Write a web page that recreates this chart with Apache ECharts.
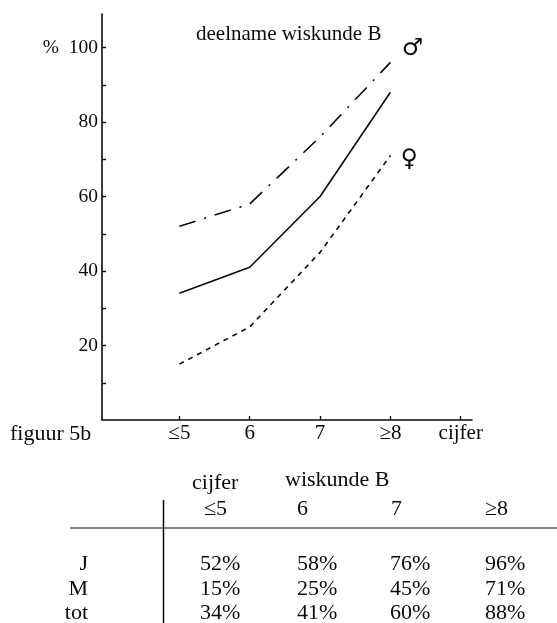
<!DOCTYPE html>
<html><head><meta charset="utf-8">
<script src="https://cdn.jsdelivr.net/npm/echarts@6/dist/echarts.min.js"></script>
<style>html,body{margin:0;padding:0;background:#fff}#c{width:557px;height:623px}</style>
</head><body><div id="c"></div>
<script>
// ---- data ----
const cijfers = [5, 6, 7, 8];
const cijferLabels = ['≤5', '6', '7', '≥8'];
const jongens = [52, 58, 76, 96];   // J  (♂)
const meisjes = [15, 25, 45, 71];   // M  (♀)
const totaal  = [34, 41, 60, 88];   // tot
const yLabelValues = [20, 40, 60, 80, 100];
const yTickValues = [10, 20, 30, 40, 50, 60, 70, 80, 90, 100];
const xAxisName = 'cijfer';
const rowNames = ['J', 'M', 'tot'];

const SERIF = '"Liberation Serif", "DejaVu Serif", serif';
const FS = 21;
const FT = 22;
const INK = '#0a0a0a';

function pts(vals, sym) {
  return vals.map((v, i) => {
    const p = { value: [cijfers[i], v] };
    if (sym && i === vals.length - 1) p.label = sym;
    return p;
  });
}

const chart = echarts.init(document.getElementById('c'), null, { renderer: 'canvas' });

// table graphic built from the arrays
const headLeft = [204, 297, 391, 485];
const valLeft = [200, 297, 390, 485];
const rowY = [564, 589, 613];
const tableRows = [jongens, meisjes, totaal];
const tf = FT + 'px ' + SERIF;
const graphic = [
  { type: 'text', x: 10, y: 434, style: { text: 'figuur 5b', font: tf, fill: INK, verticalAlign: 'middle' } },
  { type: 'text', x: 192, y: 483, style: { text: 'cijfer', font: tf, fill: INK, verticalAlign: 'middle' } },
  { type: 'text', x: 285, y: 480, style: { text: 'wiskunde B', font: tf, fill: INK, verticalAlign: 'middle' } },
  { type: 'line', shape: { x1: 70, y1: 528, x2: 557, y2: 528 }, style: { stroke: INK, lineWidth: 1.2 } },
  { type: 'line', shape: { x1: 163.5, y1: 500, x2: 163.5, y2: 623 }, style: { stroke: INK, lineWidth: 1.5 } }
];
cijferLabels.forEach((t, i) => graphic.push({ type: 'text', x: headLeft[i], y: 509,
  style: { text: t, font: tf, fill: INK, verticalAlign: 'middle' } }));
tableRows.forEach((row, r) => {
  graphic.push({ type: 'text', x: 88, y: rowY[r],
    style: { text: rowNames[r], font: tf, fill: INK, align: 'right', verticalAlign: 'middle' } });
  row.forEach((v, i) => graphic.push({ type: 'text', x: valLeft[i], y: rowY[r],
    style: { text: v + '%', font: tf, fill: INK, verticalAlign: 'middle' } }));
});

const symLabel = (ch, off) => ({
  show: true, formatter: ch, position: 'inside', offset: off,
  fontFamily: '"DejaVu Sans", sans-serif', fontSize: 24, color: INK
});

chart.setOption({
  animation: false,
  backgroundColor: '#fff',
  title: {
    text: 'deelname wiskunde B', left: 191, top: 19,
    textStyle: { fontFamily: SERIF, fontSize: FS, fontWeight: 'normal', color: INK }
  },
  grid: { left: 102, top: 14, width: 370, height: 406 },
  xAxis: {
    type: 'value', min: 3.9, max: 9.16,
    axisLine: { show: true, lineStyle: { color: INK, width: 1.6 } },
    axisTick: { show: true, inside: true, length: 4, customValues: [5, 6, 7, 8, 9], lineStyle: { color: INK, width: 1.4 } },
    axisLabel: {
      customValues: [5, 6, 7, 8, 9], margin: 3,
      formatter: v => v === 9 ? xAxisName : cijferLabels[cijfers.indexOf(v)],
      fontFamily: SERIF, fontSize: FS, color: INK
    },
    splitLine: { show: false }
  },
  yAxis: {
    type: 'value', min: 0, max: 109,
    axisLine: { show: true, lineStyle: { color: INK, width: 1.6 } },
    axisTick: { show: true, inside: true, length: 4, customValues: yTickValues, lineStyle: { color: INK, width: 1.4 } },
    axisLabel: {
      customValues: yLabelValues, margin: 4,
      formatter: v => v === 100 ? '%  100' : String(v),
      fontFamily: SERIF, fontSize: 19.5, color: INK
    },
    splitLine: { show: false }
  },
  graphic: graphic,
  series: [
    { name: 'J', type: 'line', data: pts(jongens, symLabel('♂', [22, -14])), symbol: 'circle', symbolSize: 0.1,
      itemStyle: { color: INK }, lineStyle: { color: INK, width: 1.6, type: [17, 9, 2, 9] }, label: { show: false } },
    { name: 'M', type: 'line', data: pts(meisjes, symLabel('♀', [19, 4])), symbol: 'circle', symbolSize: 0.1,
      itemStyle: { color: INK }, lineStyle: { color: INK, width: 1.6, type: [5, 5] }, label: { show: false } },
    { name: 'tot', type: 'line', data: pts(totaal), symbol: 'none',
      lineStyle: { color: INK, width: 1.6, type: 'solid' } }
  ]
});
</script></body></html>
